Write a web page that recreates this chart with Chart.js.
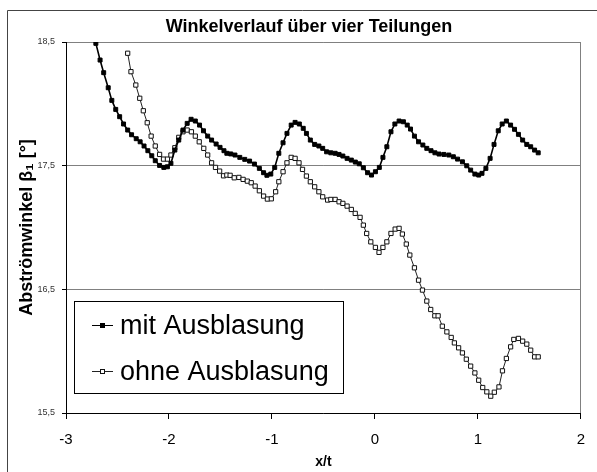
<!DOCTYPE html>
<html>
<head>
<meta charset="utf-8">
<script src="https://cdn.jsdelivr.net/npm/chart.js@4"></script>
<style>
  html, body { margin: 0; padding: 0; background: #fff; }
</style>
</head>
<body>
<canvas id="myChart" width="597" height="472"></canvas>
<script>
// chart texts
const chartTitle = 'Winkelverlauf über vier Teilungen';
const xTitle = 'x/t';
const yTitle = 'Abströmwinkel β\u2081 [°]';
const seriesLabels = ['mit Ausblasung', 'ohne Ausblasung'];

// tick positions
const xTicks = [-3, -2, -1, 0, 1, 2];
const yTicks = [15.5, 16.5, 17.5, 18.5];

// mit Ausblasung (filled squares)
const mitX = [-2.710, -2.669, -2.634, -2.590, -2.555, -2.517, -2.479, -2.441, -2.401, -2.363,
  -2.318, -2.280, -2.242, -2.205, -2.167, -2.133, -2.091, -2.050, -2.015, -1.981,
  -1.943, -1.905, -1.864, -1.823, -1.785, -1.744, -1.703, -1.665, -1.624, -1.586,
  -1.542, -1.504, -1.466, -1.438, -1.400, -1.359, -1.312, -1.264, -1.217, -1.170,
  -1.122, -1.081, -1.049, -1.011, -0.973, -0.933, -0.892, -0.854, -0.813, -0.775,
  -0.734, -0.696, -0.665, -0.627, -0.585, -0.544, -0.507, -0.469, -0.428, -0.386,
  -0.348, -0.311, -0.270, -0.229, -0.190, -0.152, -0.112, -0.071, -0.033, 0.005,
  0.043, 0.078, 0.116, 0.156, 0.194, 0.235, 0.277, 0.314, 0.346, 0.384,
  0.424, 0.466, 0.504, 0.545, 0.583, 0.623, 0.670, 0.718, 0.762, 0.803,
  0.850, 0.892, 0.930, 0.971, 1.008, 1.040, 1.078, 1.119, 1.157, 1.198,
  1.236, 1.277, 1.318, 1.356, 1.394, 1.435, 1.475, 1.513, 1.551, 1.586];
const mitY = [18.489, 18.354, 18.252, 18.130, 18.028, 17.955, 17.896, 17.837, 17.788, 17.750,
  17.718, 17.693, 17.659, 17.621, 17.580, 17.540, 17.502, 17.486, 17.491, 17.519,
  17.626, 17.707, 17.788, 17.842, 17.875, 17.861, 17.828, 17.782, 17.739, 17.707,
  17.675, 17.648, 17.621, 17.600, 17.595, 17.586, 17.567, 17.551, 17.537, 17.513,
  17.478, 17.443, 17.422, 17.432, 17.486, 17.600, 17.685, 17.761, 17.828, 17.850,
  17.837, 17.802, 17.761, 17.707, 17.672, 17.659, 17.640, 17.612, 17.604, 17.600,
  17.591, 17.578, 17.559, 17.545, 17.529, 17.515, 17.483, 17.443, 17.424, 17.451,
  17.486, 17.567, 17.653, 17.774, 17.837, 17.861, 17.855, 17.828, 17.796, 17.739,
  17.693, 17.667, 17.640, 17.621, 17.604, 17.594, 17.591, 17.586, 17.572, 17.553,
  17.531, 17.499, 17.464, 17.432, 17.424, 17.438, 17.478, 17.559, 17.672, 17.782,
  17.837, 17.861, 17.828, 17.794, 17.753, 17.707, 17.672, 17.653, 17.626, 17.604];

// ohne Ausblasung (hollow squares)
const ohneX = [-2.401, -2.369, -2.322, -2.284, -2.249, -2.211, -2.173, -2.133, -2.091, -2.053,
  -2.015, -1.981, -1.943, -1.905, -1.864, -1.823, -1.782, -1.744, -1.706, -1.662,
  -1.624, -1.586, -1.548, -1.508, -1.470, -1.438, -1.406, -1.366, -1.321, -1.280,
  -1.239, -1.201, -1.163, -1.122, -1.081, -1.044, -1.006, -0.964, -0.933, -0.892,
  -0.854, -0.813, -0.775, -0.737, -0.703, -0.665, -0.627, -0.585, -0.544, -0.507,
  -0.459, -0.428, -0.386, -0.348, -0.311, -0.270, -0.229, -0.191, -0.144, -0.112,
  -0.080, -0.040, 0.005, 0.040, 0.078, 0.116, 0.156, 0.197, 0.235, 0.267,
  0.305, 0.339, 0.384, 0.424, 0.462, 0.504, 0.542, 0.582, 0.614, 0.655,
  0.699, 0.741, 0.772, 0.813, 0.850, 0.888, 0.930, 0.971, 1.008, 1.047,
  1.087, 1.125, 1.160, 1.205, 1.239, 1.277, 1.318, 1.349, 1.394, 1.435,
  1.475, 1.513, 1.551, 1.586];
const ohneY = [18.409, 18.260, 18.152, 18.045, 17.944, 17.847, 17.739, 17.659, 17.591, 17.553,
  17.553, 17.586, 17.645, 17.729, 17.774, 17.788, 17.774, 17.739, 17.693, 17.640,
  17.586, 17.523, 17.486, 17.456, 17.418, 17.424, 17.422, 17.402, 17.405, 17.389,
  17.375, 17.362, 17.335, 17.297, 17.254, 17.230, 17.232, 17.289, 17.370, 17.451,
  17.523, 17.567, 17.559, 17.523, 17.470, 17.416, 17.370, 17.329, 17.289, 17.248,
  17.222, 17.227, 17.227, 17.208, 17.195, 17.173, 17.146, 17.114, 17.082, 17.019,
  16.952, 16.884, 16.839, 16.799, 16.839, 16.884, 16.952, 16.987, 16.993, 16.947,
  16.866, 16.777, 16.674, 16.574, 16.494, 16.405, 16.337, 16.286, 16.286, 16.202,
  16.156, 16.111, 16.067, 16.027, 15.986, 15.935, 15.879, 15.824, 15.765, 15.706,
  15.671, 15.636, 15.668, 15.711, 15.841, 15.941, 16.035, 16.095, 16.103, 16.081,
  16.057, 16.008, 15.954, 15.954];

const baseFont = 'Arial, "Liberation Sans", sans-serif';

function toPoints(xs, ys) {
  return xs.map((x, i) => ({ x: x, y: ys[i] }));
}

// outer frame of the excel chart + grey right border of the plot area
const framePlugin = {
  id: 'frame',
  beforeDraw(chart) {
    const ctx = chart.ctx;
    ctx.save();
    ctx.fillStyle = '#fff';
    ctx.fillRect(0, 0, chart.width, chart.height);
    ctx.strokeStyle = '#444';
    ctx.lineWidth = 1;
    ctx.beginPath();
    ctx.moveTo(7.5, chart.height);
    ctx.lineTo(7.5, 10.5);
    ctx.lineTo(chart.width, 10.5);
    ctx.stroke();
    ctx.restore();
  },
  beforeDatasetsDraw(chart) {
    const a = chart.chartArea;
    const ctx = chart.ctx;
    ctx.save();
    ctx.strokeStyle = '#808080';
    ctx.lineWidth = 1;
    ctx.beginPath();
    ctx.moveTo(Math.round(a.right) - 0.5, a.top);
    ctx.lineTo(Math.round(a.right) - 0.5, a.bottom);
    ctx.stroke();
    ctx.restore();
  }
};

// legend box inside the plot area, like the original
const legendBoxPlugin = {
  id: 'legendBox',
  afterDraw(chart) {
    const ctx = chart.ctx;
    const bx = 74.5, by = 301.5, bw = 269, bh = 92;
    ctx.save();
    ctx.fillStyle = '#fff';
    ctx.fillRect(bx, by, bw, bh);
    ctx.strokeStyle = '#000';
    ctx.lineWidth = 1;
    ctx.strokeRect(bx, by, bw, bh);
    chart.data.datasets.forEach((ds, i) => {
      const y = 325.5 + i * 46;
      ctx.strokeStyle = ds.borderColor;
      ctx.lineWidth = 1;
      ctx.beginPath();
      ctx.moveTo(92, y);
      ctx.lineTo(113, y);
      ctx.stroke();
      ctx.fillStyle = ds.pointBackgroundColor;
      ctx.fillRect(100.5, y - 2, 4, 4);
      ctx.strokeStyle = ds.pointBorderColor;
      ctx.strokeRect(100.5, y - 2, 4, 4);
      ctx.fillStyle = '#000';
      ctx.font = '27px ' + baseFont;
      ctx.textBaseline = 'middle';
      ctx.fillText(ds.label, 120, y + 1);
    });
    ctx.restore();
  }
};

const myChart = new Chart(document.getElementById('myChart'), {
  type: 'scatter',
  data: {
    datasets: [
      {
        label: seriesLabels[0],
        data: toPoints(mitX, mitY),
        showLine: true,
        borderColor: '#000',
        borderWidth: 1.6,
        pointStyle: 'rect',
        pointRadius: 2.8,
        pointBackgroundColor: '#000',
        pointBorderColor: '#000',
        pointBorderWidth: 1
      },
      {
        label: seriesLabels[1],
        data: toPoints(ohneX, ohneY),
        showLine: true,
        borderColor: '#222',
        borderWidth: 1,
        pointStyle: 'rect',
        pointRadius: 3,
        pointBackgroundColor: '#fff',
        pointBorderColor: '#111',
        pointBorderWidth: 1
      }
    ]
  },
  options: {
    responsive: false,
    animation: false,
    layout: { padding: { left: 23, right: 2, top: 0, bottom: 0 } },
    plugins: {
      legend: { display: false },
      tooltip: { enabled: false },
      title: {
        display: true,
        text: chartTitle,
        color: '#000',
        font: { family: baseFont, size: 18, weight: 'bold' },
        padding: { top: 16, bottom: 4.4 }
      }
    },
    scales: {
      x: {
        type: 'linear',
        min: -3,
        max: 2,
        afterBuildTicks: (s) => { s.ticks = xTicks.map(v => ({ value: v })); },
        afterFit: (s) => { s.height = 59; },
        ticks: {
          color: '#000',
          font: { family: baseFont, size: 15 },
          padding: 12,
          callback: (v) => String(v)
        },
        grid: { drawOnChartArea: false, drawTicks: true, tickLength: 6, tickColor: '#000' },
        border: { color: '#000' },
        title: {
          display: true,
          text: xTitle,
          color: '#000',
          font: { family: baseFont, size: 14, weight: 'bold' },
          padding: { top: 0, bottom: 1 }
        }
      },
      y: {
        type: 'linear',
        min: 15.5,
        max: 18.5,
        afterBuildTicks: (s) => { s.ticks = yTicks.map(v => ({ value: v })); },
        afterFit: (s) => { s.width = 43; },
        ticks: {
          color: '#333',
          font: { family: baseFont, size: 9 },
          padding: 7,
          callback: (v) => v.toFixed(1).replace('.', ',')
        },
        grid: { color: '#808080', tickLength: 4, tickColor: '#000' },
        border: { color: '#000' },
        title: {
          display: true,
          text: yTitle,
          color: '#000',
          font: { family: baseFont, size: 18, weight: 'bold' },
          padding: { top: -7, bottom: 0 }
        }
      }
    }
  },
  plugins: [framePlugin, legendBoxPlugin]
});
</script>
</body>
</html>
